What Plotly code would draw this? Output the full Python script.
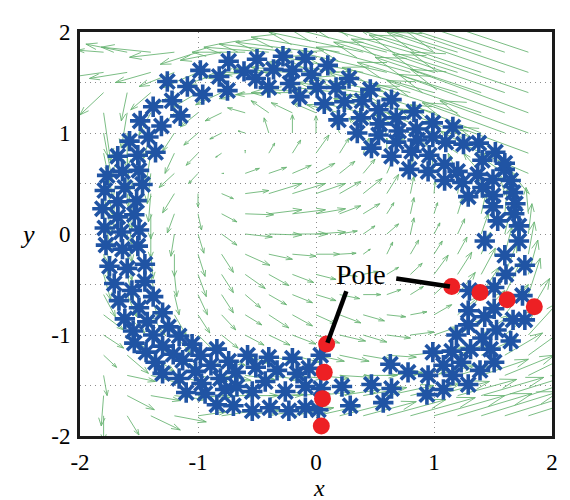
import numpy as np
import plotly.graph_objects as go
import plotly.figure_factory as ff

# ---------------- vector field (grid + arrow components) ----------------
grid_x = [-1.8, -1.6, -1.4, -1.2, -1.0, -0.8, -0.6, -0.4, -0.2, 0.0, 0.2, 0.4, 0.6, 0.8, 1.0, 1.2, 1.4, 1.6, 1.8]
grid_y = [1.8, 1.6, 1.4, 1.2, 1.0, 0.8, 0.6, 0.4, 0.2, 0.0, -0.2, -0.4, -0.6, -0.8, -1.0, -1.2, -1.4, -1.6, -1.8]

field_u = [
    [-0.22,-0.35,-0.42,-0.38,-0.32,-0.35,-0.45,-0.55,-0.62,-0.68,-0.75,-0.80,-0.85,-0.90,-0.95,-1.00,-1.05,-1.10,-1.15],
    [-0.30,-0.32,-0.30,-0.30,-0.30,-0.30,-0.35,-0.42,-0.50,-0.55,-0.62,-0.68,-0.75,-0.80,-0.85,-0.90,-0.95,-1.00,-1.05],
    [-0.20,-0.05,-0.17,-0.20,-0.22,-0.22,-0.22,-0.28,-0.35,-0.40,-0.45,-0.55,-0.62,-0.70,-0.78,-0.85,-0.90,-0.95,-1.00],
    [0.06,-0.05,-0.10,-0.14,-0.15,-0.14,-0.15,-0.15,-0.18,-0.20,-0.28,-0.36,-0.45,-0.55,-0.62,-0.70,-0.80,-0.90,-1.00],
    [0.07,0.00,-0.06,-0.10,-0.12,-0.10,-0.06,-0.04,0.00,0.00,-0.05,-0.12,-0.20,-0.30,-0.40,-0.50,-0.60,-0.70,-0.75],
    [0.08,0.02,-0.04,-0.08,-0.10,-0.05,0.00,0.05,0.07,0.11,0.08,0.05,0.00,-0.08,-0.15,-0.25,-0.35,-0.45,-0.60],
    [0.08,0.03,-0.03,-0.13,-0.08,0.02,0.12,0.15,0.16,0.16,0.13,0.10,0.06,0.02,-0.02,-0.08,-0.15,-0.25,-0.40],
    [0.07,0.04,-0.02,-0.10,0.00,0.10,0.20,0.28,0.28,0.25,0.18,0.16,0.10,0.03,0.01,0.02,0.00,-0.05,-0.15],
    [0.06,0.04,0.00,-0.06,0.03,0.13,0.24,0.28,0.28,0.25,0.18,0.14,0.06,0.03,0.03,0.04,0.04,0.02,-0.02],
    [0.05,0.04,0.00,-0.03,0.05,0.13,0.23,0.28,0.30,0.25,0.15,0.10,0.10,0.03,0.05,0.06,0.06,0.05,0.03],
    [0.05,0.04,0.02,0.00,0.06,0.10,0.21,0.20,0.20,0.20,0.14,0.06,0.05,0.07,0.07,0.08,0.08,0.06,0.05],
    [0.06,0.05,0.04,0.02,0.07,0.10,0.17,0.17,0.18,0.17,0.15,0.12,0.10,0.10,0.12,0.12,0.12,0.10,0.08],
    [0.10,0.08,0.06,0.04,0.08,0.10,0.13,0.15,0.17,0.17,0.17,0.15,0.12,0.11,0.13,0.15,0.15,0.13,0.10],
    [0.17,0.15,0.12,0.10,0.10,0.12,0.14,0.17,0.17,0.17,0.18,0.18,0.16,0.14,0.15,0.18,0.20,0.20,0.18],
    [0.17,0.18,0.16,0.14,0.14,0.14,0.16,0.18,0.20,0.20,0.22,0.20,0.20,0.20,0.20,0.22,0.25,0.27,0.25],
    [0.11,0.18,0.20,0.20,0.20,0.20,0.20,0.22,0.23,0.24,0.25,0.25,0.25,0.25,0.26,0.28,0.30,0.32,0.32],
    [0.03,0.24,0.25,0.25,0.25,0.25,0.25,0.26,0.27,0.28,0.28,0.29,0.30,0.32,0.35,0.38,0.40,0.42,0.42],
    [-0.02,0.23,0.25,0.27,0.27,0.28,0.28,0.30,0.32,0.33,0.35,0.37,0.40,0.43,0.47,0.50,0.53,0.55,0.57],
    [0.00,0.10,0.25,0.27,0.24,0.28,0.30,0.32,0.35,0.38,0.40,0.45,0.50,0.55,0.60,0.63,0.66,0.68,0.70],
]
field_v = [
    [0.02,0.08,0.05,-0.05,-0.12,-0.08,0.00,0.05,0.08,0.10,0.15,0.20,0.25,0.30,0.33,0.36,0.40,0.42,0.45],
    [-0.05,-0.06,-0.10,-0.14,-0.15,-0.12,-0.05,0.00,0.03,0.05,0.10,0.15,0.20,0.25,0.30,0.33,0.37,0.40,0.42],
    [-0.22,-0.28,-0.17,-0.16,-0.15,-0.12,-0.06,-0.02,0.00,0.03,0.06,0.10,0.15,0.20,0.25,0.30,0.35,0.38,0.40],
    [-0.48,-0.35,-0.22,-0.18,-0.14,-0.08,0.05,0.12,0.10,0.10,0.08,0.10,0.14,0.18,0.22,0.27,0.32,0.38,0.43],
    [-0.45,-0.35,-0.25,-0.18,-0.12,-0.06,0.02,0.15,0.18,0.17,0.15,0.15,0.16,0.18,0.20,0.24,0.28,0.30,0.32],
    [-0.45,-0.38,-0.30,-0.20,-0.12,-0.04,0.03,0.10,0.13,0.18,0.15,0.15,0.15,0.16,0.17,0.20,0.22,0.24,0.26],
    [-0.42,-0.38,-0.30,-0.14,-0.10,0.00,0.05,0.06,0.08,0.10,0.12,0.14,0.16,0.17,0.18,0.20,0.20,0.20,0.20],
    [-0.40,-0.35,-0.28,-0.19,-0.13,-0.05,0.03,0.10,0.10,0.10,0.12,0.15,0.19,0.17,0.12,0.14,0.17,0.20,0.22],
    [-0.35,-0.30,-0.25,-0.19,-0.16,-0.08,-0.01,0.04,0.04,0.05,0.08,0.10,0.11,0.16,0.11,0.15,0.20,0.24,0.26],
    [-0.30,-0.28,-0.24,-0.22,-0.19,-0.11,-0.03,-0.01,0.00,0.02,0.03,0.08,0.10,0.16,0.11,0.15,0.20,0.25,0.30],
    [-0.27,-0.26,-0.24,-0.22,-0.22,-0.18,-0.11,-0.05,-0.02,0.00,0.01,0.05,0.12,0.14,0.13,0.17,0.22,0.27,0.32],
    [-0.25,-0.25,-0.24,-0.22,-0.22,-0.18,-0.14,-0.11,-0.08,-0.05,-0.02,0.03,0.07,0.11,0.19,0.22,0.26,0.30,0.34],
    [-0.22,-0.22,-0.22,-0.20,-0.20,-0.18,-0.13,-0.10,-0.08,-0.06,-0.04,0.00,0.05,0.08,0.14,0.22,0.27,0.32,0.36],
    [-0.15,-0.18,-0.20,-0.20,-0.18,-0.15,-0.10,-0.13,-0.11,-0.09,-0.08,-0.06,-0.02,0.03,0.10,0.18,0.24,0.30,0.36],
    [-0.13,-0.15,-0.18,-0.18,-0.16,-0.13,-0.10,-0.10,-0.09,-0.08,-0.06,-0.07,-0.03,0.03,0.08,0.15,0.20,0.26,0.32],
    [-0.12,-0.18,-0.16,-0.14,-0.12,-0.10,-0.08,-0.07,-0.07,-0.06,-0.06,-0.05,-0.02,0.03,0.08,0.13,0.17,0.22,0.27],
    [-0.20,-0.06,-0.08,-0.07,-0.06,-0.05,-0.04,-0.04,-0.03,-0.03,-0.02,0.00,0.03,0.06,0.10,0.13,0.16,0.20,0.24],
    [-0.30,-0.14,-0.05,-0.04,-0.02,0.00,0.00,0.01,0.02,0.04,0.06,0.08,0.10,0.12,0.14,0.16,0.18,0.20,0.22],
    [-0.25,-0.19,-0.14,-0.06,0.04,0.05,0.06,0.07,0.08,0.10,0.12,0.14,0.16,0.18,0.20,0.22,0.24,0.25,0.26],
]

# ---------------- trajectory samples (blue asterisks) ----------------
ring_x = [
    -0.74,-0.98,-0.82,-0.75,-0.96,-1.09,-1.26,-1.22,-1.38,-1.15,-1.49,-1.31,-1.42,-1.58,-1.68,-1.51,-1.36,
    -1.77,-1.64,-1.50,-1.47,-1.79,-1.62,-1.68,-1.52,-1.81,-1.68,-1.54,-1.79,-1.65,-1.50,-1.78,-1.64,-1.51,
    -1.75,-1.60,-1.45,-1.71,-1.56,-1.45,-1.67,-1.38,-1.50,-1.62,-1.43,-1.30,-1.55,-1.38,-1.25,-1.54,-1.44,
    -1.30,-1.16,-1.05,-1.36,-1.21,-1.13,-0.98,-0.84,-1.30,-1.16,-1.02,-0.89,-0.74,-0.58,-1.10,-0.94,-0.81,
    -0.68,-0.51,-0.40,-0.97,-0.77,-0.84,-0.70,-0.67,-0.54,-0.54,-0.39,-0.43,-0.33,-0.23,-0.20,-0.26,-0.16,
    -0.06,0.04,-0.09,0.04,0.22,0.47,0.64,0.63,-0.09,0.02,0.29,0.57,0.78,0.94,0.95,1.08,0.99,1.15,1.08,
    1.16,1.29,1.23,1.31,1.19,1.39,1.51,1.41,1.48,1.53,1.65,1.29,1.43,1.67,1.77,1.29,1.30,1.51,1.51,1.75,
    1.77,1.61,1.60,1.43,1.72,0.79,0.95,1.09,1.20,1.24,1.37,1.29,1.50,1.41,1.65,1.60,1.50,1.67,1.69,1.50,
    1.54,1.72,1.68,1.09,0.96,-0.50,-0.61,-0.51,-0.40,-0.28,-0.36,-0.20,-0.22,-0.14,-0.09,-0.04,0.10,0.01,
    0.17,0.28,0.07,0.24,0.19,0.39,0.46,0.38,0.53,0.64,0.35,0.54,0.68,0.83,0.53,0.47,0.99,1.16,0.85,0.68,
    0.64,0.81,0.86,0.99,1.10,1.25,1.38,1.52,1.60,1.41,0.70,
]
ring_y = [
    1.71,1.62,1.56,1.42,1.38,1.46,1.51,1.32,1.26,1.17,1.12,1.07,0.96,0.92,0.77,0.78,0.81,
    0.58,0.62,0.63,0.49,0.43,0.46,0.32,0.33,0.25,0.17,0.19,0.06,0.02,0.04,-0.11,-0.15,-0.12,
    -0.32,-0.34,-0.30,-0.49,-0.56,-0.47,-0.66,-0.62,-0.73,-0.84,-0.87,-0.78,-0.96,-1.00,-0.92,-1.08,-1.17,
    -1.11,-1.01,-1.09,-1.27,-1.19,-1.25,-1.20,-1.14,-1.38,-1.43,-1.36,-1.30,-1.26,-1.20,-1.57,-1.58,-1.43,
    -1.37,-1.32,-1.22,-1.48,-1.54,-1.69,-1.70,-1.51,-1.56,-1.75,-1.72,-1.46,-1.35,-1.75,-1.23,-1.56,-1.38,
    -1.33,-1.20,-1.51,-1.53,-1.51,-1.49,-1.53,-1.29,-1.72,-1.74,-1.70,-1.67,-1.37,-1.59,-1.40,-1.54,-1.17,-1.16,-1.30,
    -1.40,-1.49,-1.27,-1.14,-1.00,-1.35,-1.27,-1.03,-1.14,-0.95,-1.06,-0.90,-0.82,-0.85,-0.85,-0.76,-0.56,-0.53,-0.74,-0.61,
    -0.31,-0.40,-0.21,-0.07,-0.07,0.64,0.62,0.53,0.62,0.51,0.59,0.37,0.54,0.46,0.53,0.64,0.38,0.41,0.30,0.27,
    0.13,0.08,0.20,0.69,0.78,1.73,1.61,1.54,1.45,1.76,1.63,1.62,1.49,1.36,1.74,1.58,1.67,1.45,
    1.45,1.54,1.29,1.31,1.13,1.32,1.43,1.15,1.23,1.33,1.00,1.09,1.15,1.21,0.98,0.85,1.10,1.06,1.04,0.91,
    0.77,0.82,0.93,0.96,0.91,0.89,0.90,0.81,0.70,0.73,1.02,
]

# ---------------- poles (red dots) ----------------
pole_x = [1.15, 1.39, 1.62, 1.85, 0.09, 0.07, 0.055, 0.045]
pole_y = [-0.52, -0.58, -0.65, -0.72, -1.09, -1.37, -1.63, -1.90]

# axis ticks
tick_vals = [-2, -1, 0, 1, 2]
tick_text = ["-2", "-1", "0", "1", "2"]

# annotation "Pole" with two leader lines
label_text = "Pole"
label_pos = (0.385, -0.40)
leader_1 = ([0.68, 1.135], [-0.44, -0.52])
leader_2 = ([0.257, 0.097], [-0.567, -1.077])

BLUE = "rgb(32,84,164)"
RED = "rgb(237,32,36)"
GREEN = "rgba(100,178,110,0.85)"
SERIF = "Liberation Serif"

X, Y = np.meshgrid(grid_x, grid_y)
quiv = ff.create_quiver(X, Y, np.array(field_u), np.array(field_v),
                        scale=1, arrow_scale=0.28, angle=0.33,
                        line=dict(color=GREEN, width=1))

fig = go.Figure()
for tr in quiv.data:
    tr.showlegend = False
    tr.hoverinfo = "skip"
    fig.add_trace(tr)

fig.add_trace(go.Scatter(
    x=ring_x, y=ring_y, mode="markers",
    marker=dict(symbol="asterisk-open", size=17, color=BLUE,
                line=dict(width=3.6, color=BLUE)),
    showlegend=False))

fig.add_trace(go.Scatter(
    x=pole_x, y=pole_y, mode="markers",
    marker=dict(symbol="circle", size=17, color=RED, line=dict(width=0)),
    showlegend=False))

for lx, ly in (leader_1, leader_2):
    fig.add_trace(go.Scatter(x=lx, y=ly, mode="lines",
                             line=dict(color="black", width=4.5), showlegend=False))

fig.add_annotation(x=label_pos[0], y=label_pos[1], text=label_text, showarrow=False,
                   font=dict(family=SERIF, size=28, color="black"))

axis_common = dict(
    range=[-2, 2], tickmode="array", tickvals=tick_vals, ticktext=tick_text,
    showgrid=True, gridcolor="#8c8c8c", griddash="1px,4px", gridwidth=1,
    showline=True, mirror=True, linecolor="#1a1a1a", linewidth=3,
    zeroline=False, ticks="",
    tickfont=dict(family=SERIF, size=23, color="black"),
)

# page has an 8px body margin: plot area in page coords x 80..554, y 20..436
fig.update_layout(
    width=562, height=500,
    margin=dict(l=72, r=16, t=12, b=72),
    paper_bgcolor="white", plot_bgcolor="white",
    xaxis=dict(**axis_common, ticklabelstandoff=3),
    yaxis=dict(**axis_common, ticklabelstandoff=2,
               minor=dict(dtick=0.5, tick0=0, showgrid=True, gridcolor="#8c8c8c",
                          griddash="1px,4px", gridwidth=1, ticks="")),
    showlegend=False,
)

fig.add_annotation(xref="paper", yref="paper", x=(320 - 80) / 474, y=(436 - 490) / 416,
                   text="<i>x</i>", showarrow=False, xanchor="center", yanchor="middle",
                   font=dict(family=SERIF, size=24, color="black"))
fig.add_annotation(xref="paper", yref="paper", x=(27 - 80) / 474, y=0.5,
                   text="<i>y</i>", showarrow=False, xanchor="center", yanchor="middle",
                   font=dict(family=SERIF, size=26, color="black"))

fig.write_html("out.html")
